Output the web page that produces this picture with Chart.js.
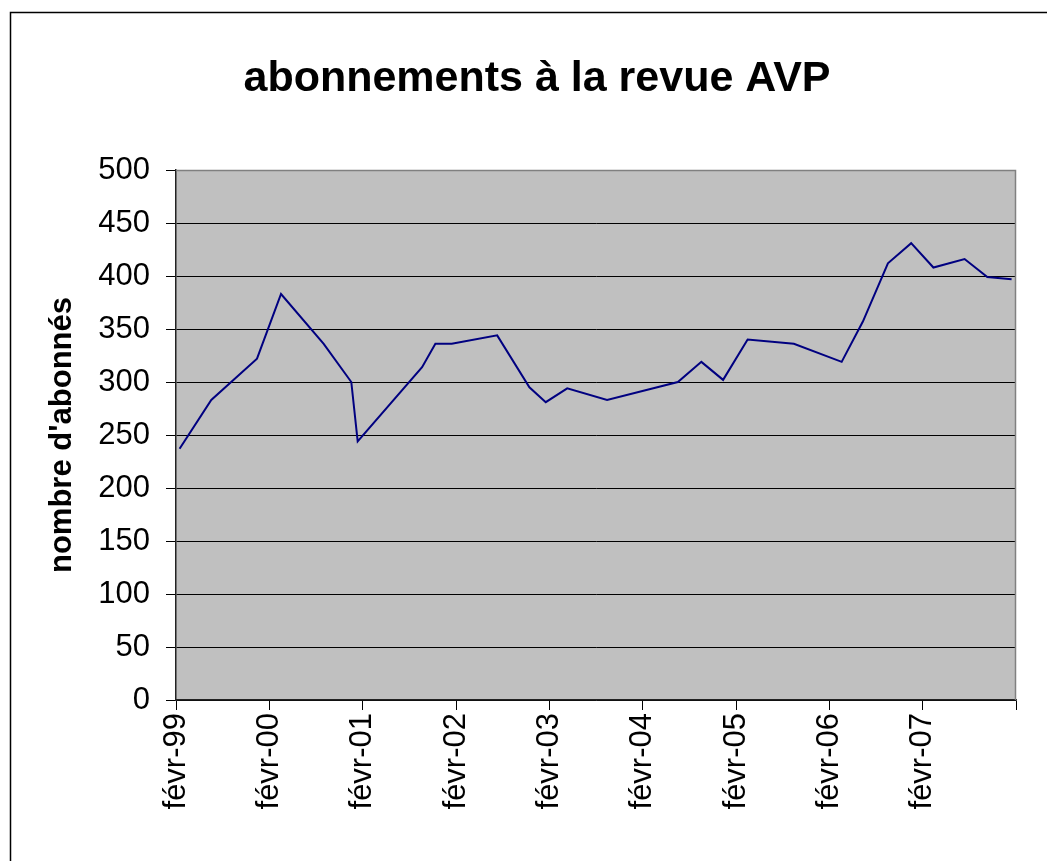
<!DOCTYPE html>
<html>
<head>
<meta charset="utf-8">
<script src="https://cdn.jsdelivr.net/npm/chart.js@4/dist/chart.umd.min.js"></script>
<style>
    html, body { margin: 0; padding: 0; background: #fff; }
    #wrapper { width: 1047px; height: 861px; }
</style>
</head>
<body>
<div id="wrapper"><canvas id="lineChart" width="1047" height="861"></canvas></div>
<script>
// dates des relevés
var dates = [
    '1999-02-15', '1999-06-19', '1999-12-15', '2000-03-18', '2000-09-01',
    '2000-12-18', '2001-01-12', '2001-09-21', '2001-11-12', '2002-01-15',
    '2002-07-12', '2002-11-15', '2003-01-18', '2003-04-12', '2003-09-15',
    '2004-06-18', '2004-09-18', '2004-12-12', '2005-03-18', '2005-09-15',
    '2006-03-21', '2006-06-12', '2006-09-18', '2006-12-18', '2007-03-15',
    '2007-07-15', '2007-10-12', '2008-01-15'
];
var abonnes = [
    237, 283, 322, 383, 336,
    300, 244, 314, 336, 336,
    344, 295, 281, 294, 283,
    300, 319, 302, 340, 336,
    319, 357, 412, 431, 408,
    416, 399, 397
];
var tickLabels = ['févr-99', 'févr-00', 'févr-01', 'févr-02', 'févr-03',
    'févr-04', 'févr-05', 'févr-06', 'févr-07', ''];

var fontFamily = "'Liberation Sans', Arial, sans-serif";
var startDate = Date.parse('1999-02-01');

function months_since_start(d) {
    return (Date.parse(d) - startDate) / (86400000 * 365.25 / 12);
}

var points = dates.map(function(d, i) {
    return { x: months_since_start(d), y: abonnes[i] };
});

// fond gris de la zone de tracé + cadre extérieur
var plotArea = {
    id: 'plotArea',
    beforeDraw: function(chart) {
        var ctx = chart.ctx, a = chart.chartArea;
        ctx.save();
        ctx.fillStyle = '#ffffff';
        ctx.fillRect(0, 0, chart.width, chart.height);
        ctx.strokeStyle = '#000000';
        ctx.lineWidth = 1.5;
        ctx.strokeRect(10.5, 12.5, 1100, 900);
        ctx.fillStyle = '#c0c0c0';
        ctx.fillRect(a.left, a.top, a.right - a.left, a.bottom - a.top);
        ctx.restore();
    },
    afterDatasetsDraw: function(chart) {
        var ctx = chart.ctx, a = chart.chartArea;
        ctx.save();
        ctx.strokeStyle = '#808080';
        ctx.lineWidth = 1.5;
        ctx.beginPath();
        ctx.moveTo(a.left, a.top + 0.5);
        ctx.lineTo(a.right - 0.5, a.top + 0.5);
        ctx.lineTo(a.right - 0.5, a.bottom);
        ctx.stroke();
        ctx.restore();
    }
};

var config = {
    type: 'line',
    data: {
        datasets: [{
            label: 'abonnés',
            data: points,
            borderColor: '#000080',
            borderWidth: 2,
            pointRadius: 0,
            tension: 0,
            fill: false
        }]
    },
    options: {
        responsive: false,
        animation: false,
        layout: {
            // left/right asymmetric so the title centres like the original
            padding: { left: 58, right: 31, top: 0, bottom: 0 }
        },
        plugins: {
            legend: { display: false },
            tooltip: { enabled: false },
            title: {
                display: true,
                text: 'abonnements à la revue AVP',
                color: '#000',
                font: { family: fontFamily, size: 43, weight: 'bold' },
                padding: { top: 53, bottom: 65.4 }
            }
        },
        scales: {
            x: {
                type: 'linear',
                min: 0,
                max: 108,
                afterFit: function(scale) {
                    scale.height = 161;
                    scale.paddingLeft = 0;
                    scale.paddingRight = 0;
                },
                afterBuildTicks: function(scale) {
                    scale.ticks = tickLabels.map(function(l, i) { return { value: i * 12 }; });
                },
                ticks: {
                    autoSkip: false,
                    maxRotation: 90,
                    minRotation: 90,
                    padding: 3,
                    color: '#000',
                    font: { family: fontFamily, size: 31 },
                    callback: function(value) { return tickLabels[Math.round(value / 12)]; }
                },
                grid: {
                    drawOnChartArea: false,
                    drawTicks: true,
                    tickLength: 10,
                    color: '#000'
                },
                border: { display: true, color: '#222', width: 1.5 }
            },
            y: {
                min: 0,
                max: 500,
                afterFit: function(scale) { scale.width = 118; },
                ticks: {
                    stepSize: 50,
                    padding: 16,
                    color: '#000',
                    font: { family: fontFamily, size: 31 }
                },
                grid: {
                    color: '#000',
                    lineWidth: 1,
                    tickLength: 10
                },
                border: { display: true, color: '#222', width: 1.5 },
                title: {
                    display: true,
                    text: "nombre d'abonnés",
                    color: '#000',
                    font: { family: fontFamily, size: 31, weight: 'bold' },
                    padding: { top: -14.6, bottom: 0 }
                }
            }
        }
    },
    plugins: [plotArea]
};

var myChart = new Chart(document.getElementById('lineChart'), config);
</script>
</body>
</html>
